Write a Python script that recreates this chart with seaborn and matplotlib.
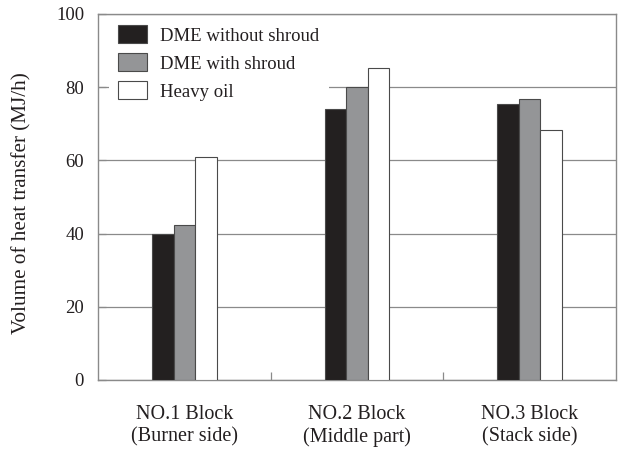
import matplotlib
matplotlib.use("Agg")
import matplotlib.pyplot as plt
import seaborn as sns
import pandas as pd
from matplotlib.ticker import FixedLocator

blocks = ["NO.1 Block\n(Burner side)", "NO.2 Block\n(Middle part)", "NO.3 Block\n(Stack side)"]
series = ["DME without shroud", "DME with shroud", "Heavy oil"]
dme_without = [40.0, 74.1, 75.5]
dme_with = [42.3, 80.0, 76.9]
heavy_oil = [61.0, 85.3, 68.2]
colors = ["#231f20", "#939598", "#ffffff"]

df = pd.DataFrame({
    "block": blocks * 3,
    "series": [series[0]] * 3 + [series[1]] * 3 + [series[2]] * 3,
    "value": dme_without + dme_with + heavy_oil,
})

sns.set_theme(style="white")
plt.rcParams["font.family"] = ["Liberation Serif", "DejaVu Serif"]

fig = plt.figure(figsize=(6.38, 4.5), dpi=100)
ax = fig.add_axes([98 / 638, 1 - 380 / 450, 518 / 638, 366 / 450])

sns.barplot(data=df, x="block", y="value", hue="series", hue_order=series,
            palette=colors, width=0.375, gap=0, dodge=True,
            edgecolor="#4a4a4a", linewidth=0.8, ax=ax, zorder=3)

ax.set_xlim(-0.5, 2.5)
ax.set_ylim(0, 100)
ax.set_yticks([0, 20, 40, 60, 80, 100])
ax.yaxis.grid(True, color="#8a8a8a", linewidth=0.9)
ax.xaxis.grid(False)
ax.set_axisbelow(True)

for s in ax.spines.values():
    s.set_visible(True)
    s.set_color("#8a8a8a")
    s.set_linewidth(1.0)

ax.tick_params(axis="y", direction="in", length=6, width=0.9, color="#8a8a8a",
               labelsize=13.5, pad=10, labelcolor="#231f20", left=True)
ax.tick_params(axis="x", which="major", length=0, labelsize=14.5, pad=18,
               labelcolor="#231f20")
ax.xaxis.set_minor_locator(FixedLocator([0.5, 1.5]))
ax.tick_params(axis="x", which="minor", direction="in", length=6, width=0.9,
               color="#8a8a8a", bottom=True)

ax.set_xlabel("")
ax.set_ylabel("Volume of heat transfer (MJ/h)", fontsize=15.2, color="#231f20")
ax.yaxis.set_label_coords(-0.128, 0.482)

leg = ax.legend(loc="upper left", bbox_to_anchor=(0.017, 1.0), frameon=True,
                fontsize=13.5, handlelength=1.55, handleheight=1.12,
                handletextpad=0.69, labelspacing=0.45, borderpad=0.5,
                borderaxespad=0.1)
leg.get_frame().set_edgecolor("none")
leg.get_frame().set_facecolor("white")
leg.get_frame().set_alpha(1.0)
# keep the legend's white box above the grid but beneath the bars
leg.set_zorder(2)
for t in leg.get_texts():
    t.set_color("#231f20")

fig.savefig("out.png", dpi=100)
